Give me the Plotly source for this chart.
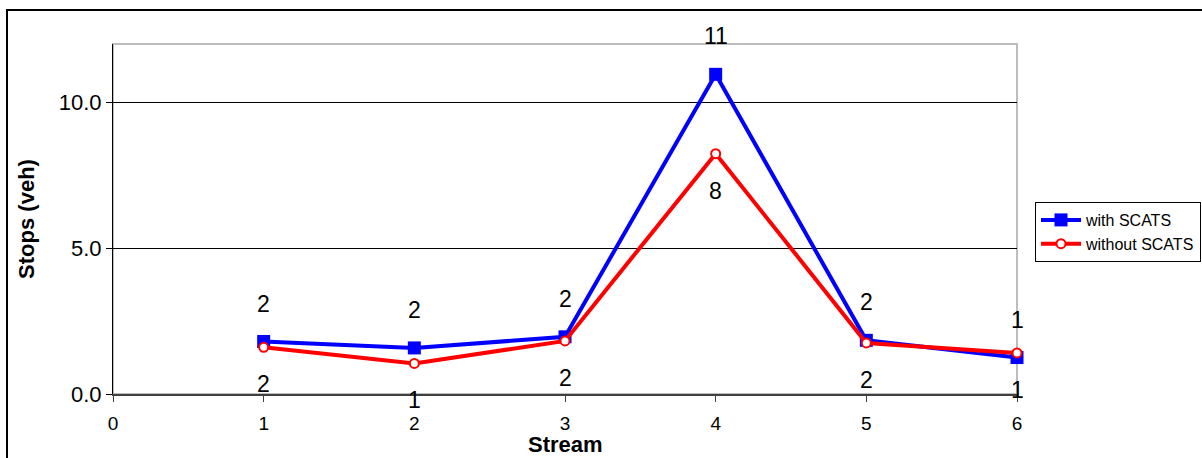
import plotly.graph_objects as go

# Stops per stream, with and without SCATS signal control
streams = [1, 2, 3, 4, 5, 6]
with_scats = [1.8, 1.58, 1.96, 10.96, 1.84, 1.25]
without_scats = [1.6, 1.05, 1.82, 8.24, 1.75, 1.41]

x_ticks = [0, 1, 2, 3, 4, 5, 6]
y_ticks = [0, 5, 10]

W, H = 1202, 458
L, R, T, B = 113, 185, 44, 64
pw, ph = W - L - R, H - T - B

FONT = "Liberation Sans, Arial, sans-serif"

fig = go.Figure()

fig.add_trace(go.Scatter(
    x=streams, y=with_scats, name="with SCATS",
    mode="lines+markers",
    line=dict(color="#0000ff", width=4),
    marker=dict(symbol="square", size=13, color="#0000ff"),
    cliponaxis=False,
))
fig.add_trace(go.Scatter(
    x=streams, y=without_scats, name="without SCATS",
    mode="lines+markers",
    line=dict(color="#ff0000", width=4),
    marker=dict(symbol="circle", size=9, color="white",
                line=dict(color="#ff0000", width=2)),
    cliponaxis=False,
))

annotations = []
for xv, yv in zip(streams, with_scats):
    annotations.append(dict(x=xv, y=yv, xref="x", yref="y", text=f"{yv:.0f}",
                            showarrow=False, yshift=38,
                            font=dict(family=FONT, size=23, color="black")))
for xv, yv in zip(streams, without_scats):
    annotations.append(dict(x=xv, y=yv, xref="x", yref="y", text=f"{yv:.0f}",
                            showarrow=False, yshift=-37,
                            font=dict(family=FONT, size=23, color="black")))

# x-axis title, placed just under the tick labels
annotations.append(dict(x=0.5, y=-(444 - (H - B)) / ph, xref="paper", yref="paper",
                        text="<b>Stream</b>", showarrow=False,
                        xanchor="center", yanchor="middle",
                        font=dict(family=FONT, size=22, color="black")))

shapes = [
    # outer chart frame
    dict(type="rect", xref="paper", yref="paper",
         x0=(7 - L) / pw, x1=(W + 20 - L) / pw,
         y0=-(B + 20) / ph, y1=(H - 10 - B) / ph,
         line=dict(color="black", width=2), fillcolor="rgba(0,0,0,0)", layer="below"),
    # plot area border
    dict(type="rect", xref="paper", yref="paper", x0=0, x1=1, y0=0, y1=1,
         line=dict(color="#bdbdbd", width=2), fillcolor="rgba(0,0,0,0)", layer="below"),
]

fig.update_layout(
    width=W, height=H,
    margin=dict(l=L, r=R, t=T, b=B, autoexpand=False),
    paper_bgcolor="white", plot_bgcolor="white",
    font=dict(family=FONT, color="black"),
    showlegend=True,
    legend=dict(
        x=(1035 - L) / pw, y=(H - B - 202) / ph, xanchor="left", yanchor="top",
        bordercolor="black", borderwidth=1, bgcolor="white",
        font=dict(family=FONT, size=16, color="black"),
        tracegroupgap=0, itemwidth=40,
    ),
    annotations=annotations,
    shapes=shapes,
)

fig.update_xaxes(
    range=[0, 6], tickvals=x_ticks, ticktext=[str(v) for v in x_ticks],
    showgrid=False, zeroline=False, automargin=False,
    showline=True, linecolor="#404040", linewidth=2,
    ticks="outside", ticklen=6, tickcolor="#404040",
    ticklabelstandoff=5,
    tickfont=dict(family=FONT, size=19, color="black"),
)
fig.update_yaxes(
    range=[0, 12], tickvals=y_ticks, tickformat=".1f",
    showgrid=True, gridcolor="black", gridwidth=1, zeroline=False, automargin=False,
    showline=True, linecolor="black", linewidth=1,
    ticks="outside", ticklen=6, tickcolor="black",
    tickfont=dict(family=FONT, size=22, color="black"),
    title=dict(text="<b>Stops (veh)</b>", font=dict(family=FONT, size=22, color="black"),
               standoff=18),
)

fig.write_html("out.html")
